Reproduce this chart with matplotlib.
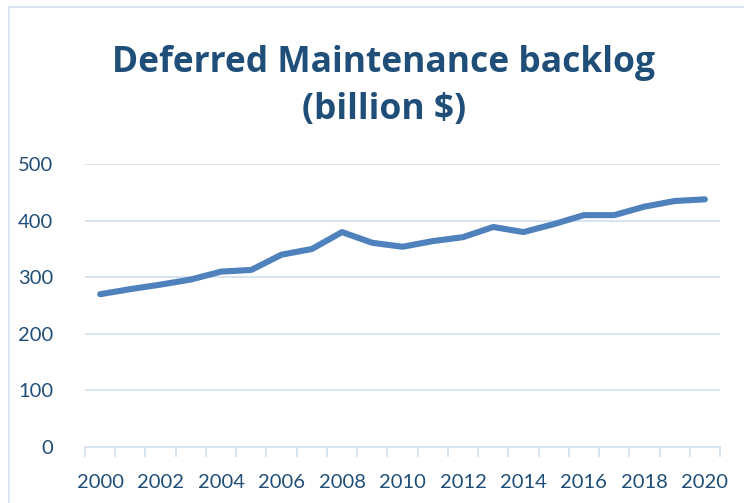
import matplotlib
matplotlib.use("Agg")
import matplotlib.pyplot as plt
from matplotlib.patches import Rectangle
import numpy as np

years = list(range(2000, 2021))
backlog = [270, 279, 287, 296, 310, 313, 340, 350, 380, 361, 354, 364, 371, 389, 380, 394, 410, 410, 425, 435, 438]
y_ticks = [0, 100, 200, 300, 400, 500]
title = "Deferred Maintenance backlog\n(billion $)"

W, H = 744, 503
fig = plt.figure(figsize=(W / 100, H / 100), dpi=100)
fig.patch.set_facecolor("white")

# chart frame
fig.add_artist(Rectangle((9 / W, -0.05), 1.1, 1 - 7 / H + 0.05, transform=fig.transFigure,
                         facecolor="none", edgecolor="#D6E2F0", linewidth=1.2))

ax = fig.add_axes([85 / W, 1 - 446.7 / H, (720 - 85) / W, (446.7 - 164.3) / H])
x = np.arange(len(years))
ax.plot(x, backlog, color="#4F81BD", linewidth=4.4, solid_capstyle="round", solid_joinstyle="round", zorder=3)

ax.set_xlim(-0.5, len(years) - 0.5)
ax.set_ylim(0, 500)
ax.set_yticks(y_ticks)
ax.set_yticklabels([str(v) for v in y_ticks])
ax.set_xticks(x[::2])
ax.set_xticklabels([str(y) for y in years[::2]])
ax.set_xticks(np.arange(-0.5, len(years)), minor=True)

tick_color = "#1F4E79"
ax.tick_params(axis="x", which="major", length=0, pad=20, labelsize=14.5, labelcolor=tick_color)
ax.tick_params(axis="x", which="minor", length=7, width=1.3, color="#D6E2F0")
ax.tick_params(axis="y", length=0, pad=23, labelsize=14.5, labelcolor=tick_color)
for lab in ax.get_xticklabels() + ax.get_yticklabels():
    lab.set_fontfamily("Lato")

ax.yaxis.grid(True, color="#D6E2F0", linewidth=1.3)
ax.set_axisbelow(True)
for s in ["top", "right", "left"]:
    ax.spines[s].set_visible(False)
ax.spines["bottom"].set_color("#D6E2F0")
ax.spines["bottom"].set_linewidth(1.3)

fig.text(384 / W, 1 - 119 / H, title, ha="center", va="baseline", fontsize=25.5, fontweight="bold",
         color="#1F4E79", family="Open Sans", linespacing=1.42, multialignment="center")

fig.savefig("out.png", dpi=100, facecolor="white")
